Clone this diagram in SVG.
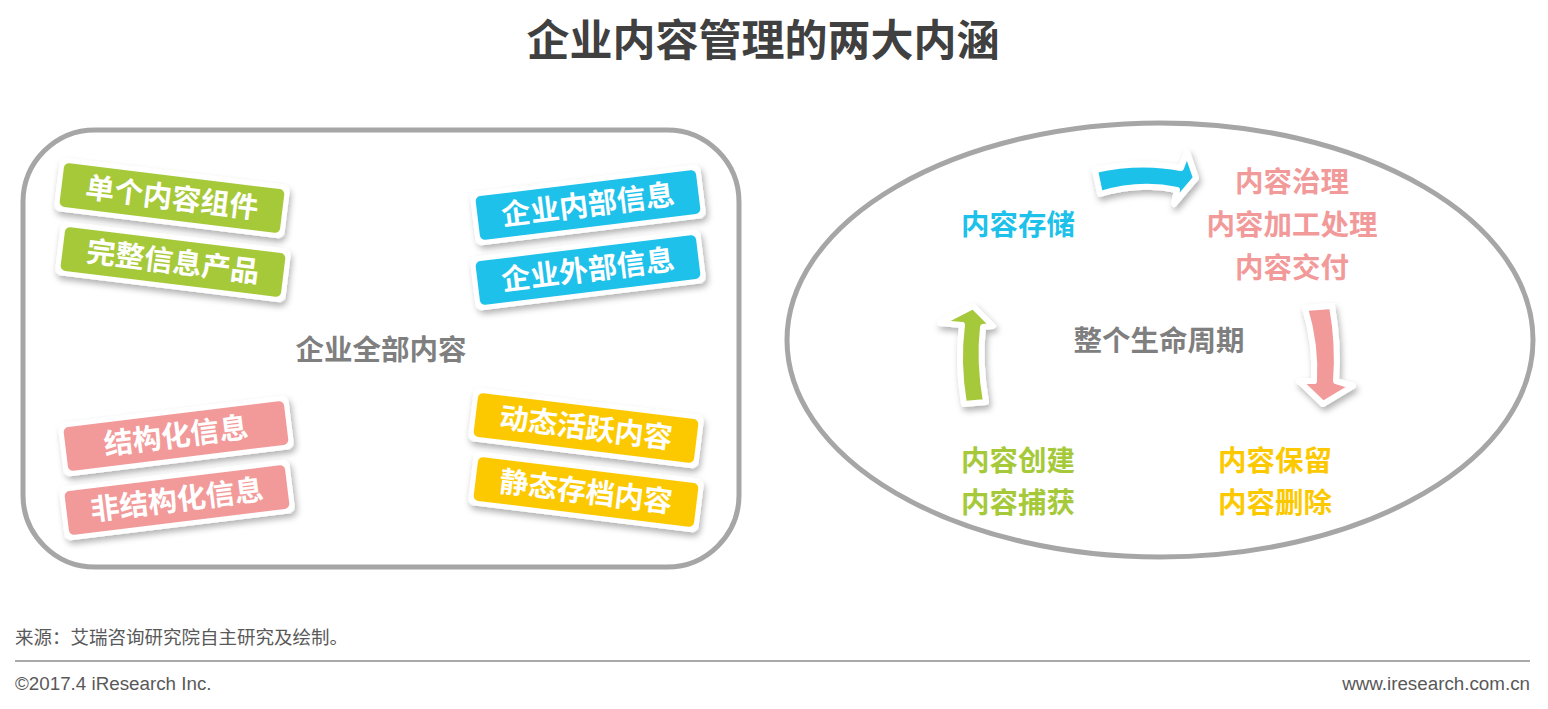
<svg xmlns="http://www.w3.org/2000/svg" width="1548" height="709" viewBox="0 0 1548 709">
<defs>
<filter id="sh" x="-20%" y="-40%" width="140%" height="180%">
<feDropShadow dx="2" dy="4" stdDeviation="3" flood-color="#000" flood-opacity="0.3"/>
</filter>
<style>
text{font-family:"Noto Sans CJK SC","Liberation Sans",sans-serif;}
.title{font-size:43px;font-weight:bold;fill:#404040;}
.tagtxt{font-size:29px;font-weight:bold;fill:#fff;text-anchor:middle;}
.frame{fill:#fff;filter:url(#sh);}
.big{font-size:28.5px;font-weight:bold;text-anchor:middle;}
.foot{font-size:18.5px;fill:#595959;}
.footl{font-family:"Liberation Sans",sans-serif;font-size:18.8px;fill:#595959;}
.arrow{stroke:#fff;stroke-width:6;stroke-linejoin:round;filter:url(#sh);}
</style>
</defs>
<rect width="1548" height="709" fill="#fff"/>
<text class="title" x="763" y="56" text-anchor="middle">企业内容管理的两大内涵</text>

<g id="left-box">
<rect x="23" y="130" width="716" height="437" rx="72" fill="none" stroke="#a6a6a6" stroke-width="5"/>
<text class="big" x="381" y="360" fill="#7f7f7f">企业全部内容</text>
</g>

<g id="tag1" transform="translate(172,198) rotate(7)">
<rect class="frame" x="-116" y="-27" width="232" height="54" rx="7"/>
<rect x="-111" y="-22" width="222" height="44" rx="5" fill="#a6c93a"/>
<text class="tagtxt" x="0" y="10">单个内容组件</text>
</g>
<g id="tag2" transform="translate(173,262) rotate(7)">
<rect class="frame" x="-116" y="-27" width="232" height="54" rx="7"/>
<rect x="-111" y="-22" width="222" height="44" rx="5" fill="#a6c93a"/>
<text class="tagtxt" x="0" y="10">完整信息产品</text>
</g>
<g id="tag3" transform="translate(588,205) rotate(-7)">
<rect class="frame" x="-116" y="-27" width="232" height="54" rx="7"/>
<rect x="-111" y="-22" width="222" height="44" rx="5" fill="#1ec1ea"/>
<text class="tagtxt" x="0" y="10">企业内部信息</text>
</g>
<g id="tag4" transform="translate(588,270) rotate(-7)">
<rect class="frame" x="-116" y="-27" width="232" height="54" rx="7"/>
<rect x="-111" y="-22" width="222" height="44" rx="5" fill="#1ec1ea"/>
<text class="tagtxt" x="0" y="10">企业外部信息</text>
</g>
<g id="tag5" transform="translate(176,436) rotate(-7)">
<rect class="frame" x="-116" y="-27" width="232" height="54" rx="7"/>
<rect x="-111" y="-22" width="222" height="44" rx="5" fill="#f29a9a"/>
<text class="tagtxt" x="0" y="10">结构化信息</text>
</g>
<g id="tag6" transform="translate(177,500) rotate(-7)">
<rect class="frame" x="-116" y="-27" width="232" height="54" rx="7"/>
<rect x="-111" y="-22" width="222" height="44" rx="5" fill="#f29a9a"/>
<text class="tagtxt" x="0" y="10">非结构化信息</text>
</g>
<g id="tag7" transform="translate(586,428) rotate(7)">
<rect class="frame" x="-116" y="-27" width="232" height="54" rx="7"/>
<rect x="-111" y="-22" width="222" height="44" rx="5" fill="#fcc900"/>
<text class="tagtxt" x="0" y="10">动态活跃内容</text>
</g>
<g id="tag8" transform="translate(586,492) rotate(7)">
<rect class="frame" x="-116" y="-27" width="232" height="54" rx="7"/>
<rect x="-111" y="-22" width="222" height="44" rx="5" fill="#fcc900"/>
<text class="tagtxt" x="0" y="10">静态存档内容</text>
</g>

<g id="right-ellipse">
<ellipse cx="1160" cy="340" rx="373" ry="217" fill="none" stroke="#a6a6a6" stroke-width="5"/>
<text class="big" x="1159" y="351" fill="#7f7f7f">整个生命周期</text>
</g>
<g id="storage"><text class="big" x="1018" y="235" fill="#1ec1ea">内容存储</text></g>
<g id="govern">
<text class="big" x="1292" y="192" fill="#f29a9a">内容治理</text>
<text class="big" x="1292" y="235" fill="#f29a9a">内容加工处理</text>
<text class="big" x="1292" y="278" fill="#f29a9a">内容交付</text>
</g>
<g id="create">
<text class="big" x="1018" y="471" fill="#a6c93a">内容创建</text>
<text class="big" x="1018" y="513" fill="#a6c93a">内容捕获</text>
</g>
<g id="retain">
<text class="big" x="1275" y="471" fill="#fcc900">内容保留</text>
<text class="big" x="1275" y="513" fill="#fcc900">内容删除</text>
</g>

<g id="connectors">
<path class="arrow" fill="#1ec1ea" d="M1095,170 Q1140,160 1181,168 L1187,152 L1196,178 L1174,204 L1177,190 Q1140,182 1100,194 Z"/>
<path class="arrow" fill="#a6c93a" d="M973,306 L993,326 L983,327 Q979,362 986,402 L964,404 Q957,362 962,325 L940,323 Z"/>
<path class="arrow" fill="#f29a9a" d="M1305,308 L1332,306 Q1339,345 1336,381 L1353,386 L1323,404 L1299,381 L1314,381 Q1316,345 1305,308 Z"/>
</g>

<g id="footer">
<text class="foot" x="15" y="644">来源：艾瑞咨询研究院自主研究及绘制。</text>
<line x1="15" y1="661" x2="1530" y2="661" stroke="#8c8c8c" stroke-width="1.5"/>
<text class="footl" x="15" y="690">©2017.4 iResearch  Inc.</text>
<text class="footl" x="1530" y="690" text-anchor="end">www.iresearch.com.cn</text>
</g>
</svg>
